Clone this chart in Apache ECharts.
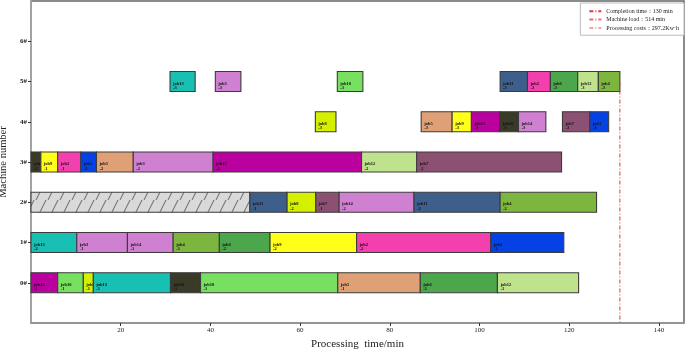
<!DOCTYPE html>
<html>
<head>
<meta charset="utf-8">
<script src="https://cdn.jsdelivr.net/npm/echarts@6.0.0/dist/echarts.min.js"></script>
<style>
  html, body { margin: 0; padding: 0; background: #fff; }
  #chart { width: 685px; height: 350px; }
</style>
</head>
<body>
<div id="chart"></div>
<script>
const machineLabels = ['0#', '1#', '2#', '3#', '4#', '5#', '6#'];
const machineTicks = [0, 1, 2, 3, 4, 5, 6];
const xTicks = [20, 40, 60, 80, 100, 120, 140];

// each operation: [start, end, job, operation]
const m0Ops = [
  [0, 5.95, 'job15', 1], [5.95, 11.66, 'job10', 1], [11.66, 13.9, 'job8', 1],
  [13.9, 31.1, 'job13', 1], [31.1, 37.8, 'job16', 1], [37.8, 68.4, 'job18', 1],
  [68.4, 86.8, 'job5', 1], [86.8, 104.0, 'job6', 1], [104.0, 122.1, 'job12', 1]
];
const m1Ops = [
  [0, 10.2, 'job13', 2], [10.2, 21.5, 'job3', 1], [21.5, 31.7, 'job14', 1],
  [31.7, 42.0, 'job4', 1], [42.0, 53.3, 'job6', 2], [53.3, 72.6, 'job9', 2],
  [72.6, 102.5, 'job2', 2], [102.5, 118.8, 'job1', 2]
];
const m2Ops = [
  [0, 48.8, 'idle', 0], [48.8, 57.1, 'job11', 1], [57.1, 63.5, 'job8', 2],
  [63.5, 68.7, 'job7', 1], [68.7, 85.4, 'job14', 2], [85.4, 104.6, 'job11', 2],
  [104.6, 126.1, 'job4', 2]
];
const m3Ops = [
  [0, 2.2, 'job16', 2], [2.2, 5.95, 'job9', 1], [5.95, 11.1, 'job2', 1],
  [11.1, 14.6, 'job1', 1], [14.6, 22.8, 'job5', 2], [22.8, 40.6, 'job3', 2],
  [40.6, 73.7, 'job15', 2], [73.7, 86.0, 'job12', 2], [86.0, 118.3, 'job7', 2]
];
const m4Ops = [
  [63.4, 68.0, 'job8', 3], [87.0, 93.9, 'job5', 3], [93.9, 98.2, 'job9', 3],
  [98.2, 104.5, 'job15', 3], [104.5, 108.7, 'job16', 3], [108.7, 114.8, 'job14', 3],
  [118.5, 124.6, 'job7', 3], [124.6, 128.8, 'job1', 3]
];
const m5Ops = [
  [31.0, 36.6, 'job13', 3], [41.1, 46.8, 'job3', 3], [68.3, 74.0, 'job10', 3],
  [104.6, 110.7, 'job11', 3], [110.7, 115.8, 'job2', 3], [115.8, 121.9, 'job6', 3],
  [121.9, 126.5, 'job12', 3], [126.5, 131.3, 'job4', 3]
];
const machineOps = [m0Ops, m1Ops, m2Ops, m3Ops, m4Ops, m5Ops];

const completionTime = 131.3;
const legendNames = ['Completion time\uFF1A130 min', 'Machine load\uFF1A514 min', 'Processing costs\uFF1A297.2Kw\u00B7h'];

const jobColors = {
  job1: '#0442e6', job2: '#f43fae', job3: '#cf80d0', job4: '#7db63f',
  job5: '#dea074', job6: '#4ca64c', job7: '#8c5072', job8: '#d4f000',
  job9: '#ffff1a', job10: '#77e060', job11: '#3e5f8c', job12: '#bee38c',
  job13: '#17c0b2', job14: '#cf80d0', job15: '#bb00a0', job16: '#3a3a28',
  job18: '#77e060'
};

// hatch fill for the idle block
const hatch = document.createElement('canvas');
hatch.width = 12;
hatch.height = 20;
const hc = hatch.getContext('2d');
hc.fillStyle = '#d9d9d9';
hc.fillRect(0, 0, 12, 20);
hc.strokeStyle = '#555';
hc.lineWidth = 0.9;
hc.beginPath();
hc.moveTo(-12, 20); hc.lineTo(-2, 0);
hc.moveTo(0, 20); hc.lineTo(10, 0);
hc.moveTo(12, 20); hc.lineTo(22, 0);
hc.stroke();

const ops = [];
machineOps.forEach((list, m) => {
  list.forEach((op) => ops.push({ m: m, start: op[0], end: op[1], job: op[2], seq: op[3] }));
});

const chart = echarts.init(document.getElementById('chart'));

function renderItem(params, api) {
  const op = ops[params.dataIndex];
  const tl = api.coord([api.value(1), api.value(0) + 0.25]);
  const br = api.coord([api.value(2), api.value(0) - 0.25]);
  const w = br[0] - tl[0];
  const h = br[1] - tl[1];
  const cy = tl[1] + h / 2;
  const idle = op.job === 'idle';
  const children = [{
    type: 'rect',
    shape: { x: tl[0], y: tl[1], width: w, height: h },
    style: {
      fill: idle ? { image: hatch, repeat: 'repeat' } : jobColors[op.job],
      stroke: '#3c3c3c',
      lineWidth: 1.1
    }
  }];
  if (!idle) {
    children.push({
      type: 'text',
      style: { x: tl[0] + 3, y: cy + 2, text: op.job, font: 'bold 4.5px "Liberation Serif"', fill: '#111', verticalAlign: 'middle' }
    }, {
      type: 'text',
      style: { x: tl[0] + 3, y: cy + 6.5, text: '-' + op.seq, font: 'bold 4.5px "Liberation Serif"', fill: '#111', verticalAlign: 'middle' }
    });
  }
  return { type: 'group', children: children };
}

const dash = [4, 2, 1, 2];

const option = {
  animation: false,
  grid: {
    left: 31, right: 1, top: 1, bottom: 27,
    containLabel: false, outerBoundsMode: 'none',
    show: true, borderColor: '#666', borderWidth: 1.5
  },
  legend: {
    orient: 'vertical',
    right: 1,
    top: 3,
    itemWidth: 12,
    itemHeight: 8,
    itemGap: 2,
    padding: [5, 5, 4, 8],
    backgroundColor: '#fff',
    borderColor: '#bbb',
    borderWidth: 1,
    itemStyle: { opacity: 0 },
    textStyle: { fontFamily: 'Liberation Serif', fontSize: 6, color: '#222' },
    data: legendNames
  },
  xAxis: {
    type: 'value',
    min: 0,
    max: 145.6,
    interval: 20,
    name: 'Processing  time/min',
    nameLocation: 'middle',
    nameGap: 15,
    nameTextStyle: { fontFamily: 'Liberation Serif', fontSize: 11, color: '#222' },
    splitLine: { show: false },
    axisLine: { onZero: false, lineStyle: { color: '#999', width: 1.5 } },
    axisTick: { length: 3, customValues: xTicks, lineStyle: { color: '#333' } },
    axisLabel: {
      fontFamily: 'Liberation Serif', fontSize: 7, color: '#222', margin: 4,
      customValues: xTicks
    }
  },
  yAxis: {
    type: 'value',
    min: -1,
    max: 7,
    interval: 1,
    name: 'Machine number',
    nameLocation: 'middle',
    nameGap: 14,
    nameTextStyle: { fontFamily: 'Liberation Serif', fontSize: 10.5, color: '#222' },
    splitLine: { show: false },
    axisLine: { show: true, onZero: false, lineStyle: { color: '#aaa', width: 1.5 } },
    axisTick: { length: 3, customValues: machineTicks, lineStyle: { color: '#333' } },
    axisLabel: {
      fontFamily: 'Liberation Serif', fontSize: 7, fontWeight: 'bold', color: '#222', margin: 4,
      customValues: machineTicks,
      formatter: (v) => machineLabels[v]
    }
  },
  series: [
    {
      type: 'custom',
      renderItem: renderItem,
      encode: { x: [1, 2], y: 0 },
      data: ops.map((o) => [o.m, o.start, o.end]),
      z: 2
    },
    {
      name: legendNames[0],
      type: 'line',
      symbol: 'none',
      itemStyle: { opacity: 0, color: '#e8373a' },
      lineStyle: { color: '#e8373a', width: 1, type: dash },
      data: [[completionTime, 5], [completionTime, -1]],
      z: 3
    },
    {
      name: legendNames[1],
      type: 'line',
      symbol: 'none',
      itemStyle: { opacity: 0, color: '#ef6a6a' },
      lineStyle: { color: '#ef6a6a', width: 1, type: dash },
      data: []
    },
    {
      name: legendNames[2],
      type: 'line',
      symbol: 'none',
      itemStyle: { opacity: 0, color: '#f4a5a5' },
      lineStyle: { color: '#f4a5a5', width: 1, type: dash },
      data: []
    }
  ]
};

chart.setOption(option);
</script>
</body>
</html>
